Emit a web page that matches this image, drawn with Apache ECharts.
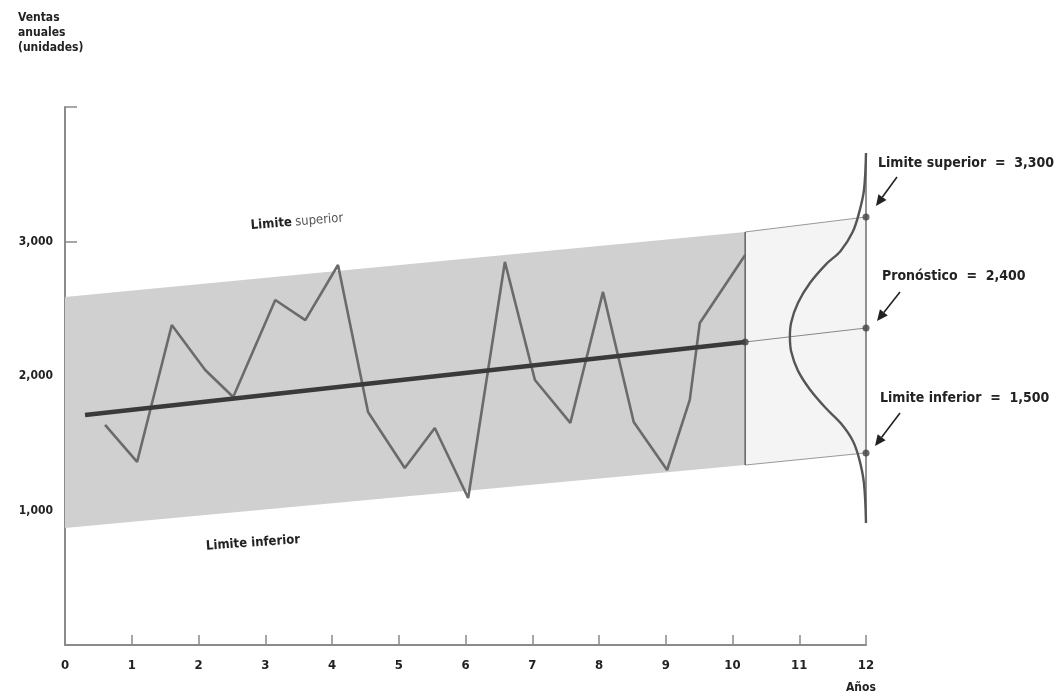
<!DOCTYPE html>
<html>
<head>
<meta charset="utf-8">
<script src="https://cdn.jsdelivr.net/npm/echarts@6/dist/echarts.min.js"></script>
<style>html,body{margin:0;padding:0;background:#fff}#c{width:1061px;height:700px}</style>
</head>
<body>
<div id="c"></div>
<script>
// ---- data ----
var xTicks = [0,1,2,3,4,5,6,7,8,9,10,11,12];
var yTicks = [1000,2000,3000];
var actualYears = [0.60,1.08,1.60,2.10,2.52,3.15,3.60,4.09,4.54,5.09,5.54,6.04,6.59,7.04,7.57,8.06,8.52,9.02,9.36,9.51,10.19];
var actualSales = [1636,1361,2379,2045,1844,2565,2416,2825,1732,1316,1613,1093,2848,1970,1651,2625,1658,1301,1822,2394,2900];
var trendYears = [0.3,10.19];
var trendSales = [1710,2253];
var forecastYears = [10.19,12];
var forecastSales = [2253,2357];
var upperYears = [0,10.19,12];
var upperSales = [2587,3071,3182];
var lowerYears = [0,10.19,12];
var lowerSales = [870,1338,1428];
var curveYears = [12,11.97,11.9,11.8,11.62,11.4,11.16,10.98,10.88,10.86,10.88,10.98,11.16,11.4,11.62,11.8,11.9,11.97,12];
var curveSales = [3658,3383,3220,3070,2930,2830,2691,2543,2400,2290,2180,2040,1900,1760,1650,1520,1380,1200,907];
var markerYears = [12,12,12,10.19];
var markerSales = [3182,2357,1428,2253];

function zip(a,b){return a.map(function(v,i){return [v,b[i]];});}

var FONT = "'Liberation Sans Narrow','DejaVu Sans Condensed','Noto Sans',sans-serif";
var chart = echarts.init(document.getElementById('c'));

function bandSeries(i0,i1,fill,stroke,strokeW){
  var pts=[[upperYears[i0],upperSales[i0]],[upperYears[i1],upperSales[i1]],[lowerYears[i1],lowerSales[i1]],[lowerYears[i0],lowerSales[i0]]];
  return {
    type:'custom', silent:true, z:1,
    data:[0],
    renderItem:function(params,api){
      var p=pts.map(function(d){return api.coord(d);});
      return {type:'polygon', shape:{points:p}, style:{fill:fill, stroke:stroke, lineWidth:strokeW}};
    }
  };
}

function arrow(x1,y1,x2,y2){
  var a=Math.atan2(y2-y1,x2-x1), L=11, W=5;
  var bx=x2-L*Math.cos(a), by=y2-L*Math.sin(a);
  return [
    {type:'line', shape:{x1:x1,y1:y1,x2:bx,y2:by}, style:{stroke:'#222',lineWidth:1.6}},
    {type:'polygon', shape:{points:[[x2,y2],[bx+W*Math.sin(a),by-W*Math.cos(a)],[bx-W*Math.sin(a),by+W*Math.cos(a)]]}, style:{fill:'#222'}}
  ];
}

var graphics = [
  {type:'text', left:18, top:10, style:{text:'Ventas\nanuales\n(unidades)', font:'bold 12px '+FONT, fill:'#222', lineHeight:15}},
  {type:'text', left:846, top:682, style:{text:'Años', font:'bold 12px '+FONT, fill:'#222'}},
  {type:'text', x:297, y:222, rotation:0.08, style:{text:'{b|Limite} {r|superior}', align:'center', verticalAlign:'middle', rich:{b:{font:'bold 13px '+FONT, fill:'#222'}, r:{font:'13px '+FONT, fill:'#555'}}}},
  {type:'text', x:422, y:361, rotation:0.09, style:{text:'Linea de tendencia', align:'center', verticalAlign:'middle', font:'13px '+FONT, fill:'#444'}},
  {type:'text', x:695, y:366, rotation:1.31, style:{text:'Datos reales', align:'center', verticalAlign:'middle', font:'13px '+FONT, fill:'#444'}},
  {type:'text', x:253, y:543, rotation:0.07, style:{text:'Limite inferior', align:'center', verticalAlign:'middle', font:'bold 13px '+FONT, fill:'#222'}},
  {type:'text', left:878, top:156, style:{text:'Limite superior  =  3,300', font:'bold 14px '+FONT, fill:'#222'}},
  {type:'text', left:882, top:269, style:{text:'Pronóstico  =  2,400', font:'bold 14px '+FONT, fill:'#222'}},
  {type:'text', left:880, top:391, style:{text:'Limite inferior  =  1,500', font:'bold 14px '+FONT, fill:'#222'}}
].concat(arrow(897,177,876,206), arrow(900,292,877,321), arrow(900,413,875,446));

chart.setOption({
  animation:false,
  backgroundColor:'#fff',
  grid:{left:65, right:195, top:107, bottom:55, containLabel:false},
  xAxis:{type:'value', min:0, max:12, interval:1,
    axisLine:{show:true, lineStyle:{color:'#8a8a8a', width:2}},
    axisTick:{show:true, inside:true, length:10, lineStyle:{color:'#8a8a8a', width:1.5}},
    axisLabel:{margin:14, fontFamily:FONT, fontWeight:'bold', fontSize:13, color:'#222'},
    splitLine:{show:false}},
  yAxis:{type:'value', min:0, max:4000, interval:1000,
    axisLine:{show:true, lineStyle:{color:'#8a8a8a', width:2}},
    axisTick:{show:true, inside:true, length:12, lineStyle:{color:'#8a8a8a', width:1.5}},
    axisLabel:{margin:12, fontFamily:FONT, fontWeight:'bold', fontSize:12, color:'#222',
      formatter:function(v){return yTicks.indexOf(v)>=0 ? echarts.format.addCommas(v) : '';}},
    splitLine:{show:false}},
  graphic:graphics,
  series:[
    bandSeries(0,1,'#d0d0d0',null,0),
    bandSeries(1,2,'#f4f4f4',null,0),
    {type:'line', silent:true, z:2, symbol:'none', data:zip(upperYears.slice(1),upperSales.slice(1)), lineStyle:{color:'#999',width:1}},
    {type:'line', silent:true, z:2, symbol:'none', data:zip(lowerYears.slice(1),lowerSales.slice(1)), lineStyle:{color:'#999',width:1}},
    {type:'line', silent:true, z:3, symbol:'none', data:[[upperYears[1],upperSales[1]],[lowerYears[1],lowerSales[1]]], lineStyle:{color:'#6a6a6a',width:1.6}},
    {type:'line', silent:true, z:3, symbol:'none', data:[[curveYears[0],curveSales[0]],[curveYears[curveYears.length-1],curveSales[curveSales.length-1]]], lineStyle:{color:'#777',width:1.6}},
    {type:'line', silent:true, z:3, symbol:'none', data:zip(forecastYears,forecastSales), lineStyle:{color:'#888',width:1.2}},
    {type:'line', silent:true, z:4, symbol:'none', smooth:0.35, data:zip(curveYears,curveSales), lineStyle:{color:'#555',width:2.4}},
    {type:'line', silent:true, z:5, symbol:'none', data:zip(actualYears,actualSales), lineStyle:{color:'#6b6b6b',width:2.6}},
    {type:'line', silent:true, z:6, symbol:'none', data:zip(trendYears,trendSales), lineStyle:{color:'#3a3a3a',width:4.5}},
    {type:'scatter', silent:true, z:7, symbol:'circle', symbolSize:7, data:zip(markerYears,markerSales), itemStyle:{color:'#444'}}
  ]
});
</script>
</body>
</html>
